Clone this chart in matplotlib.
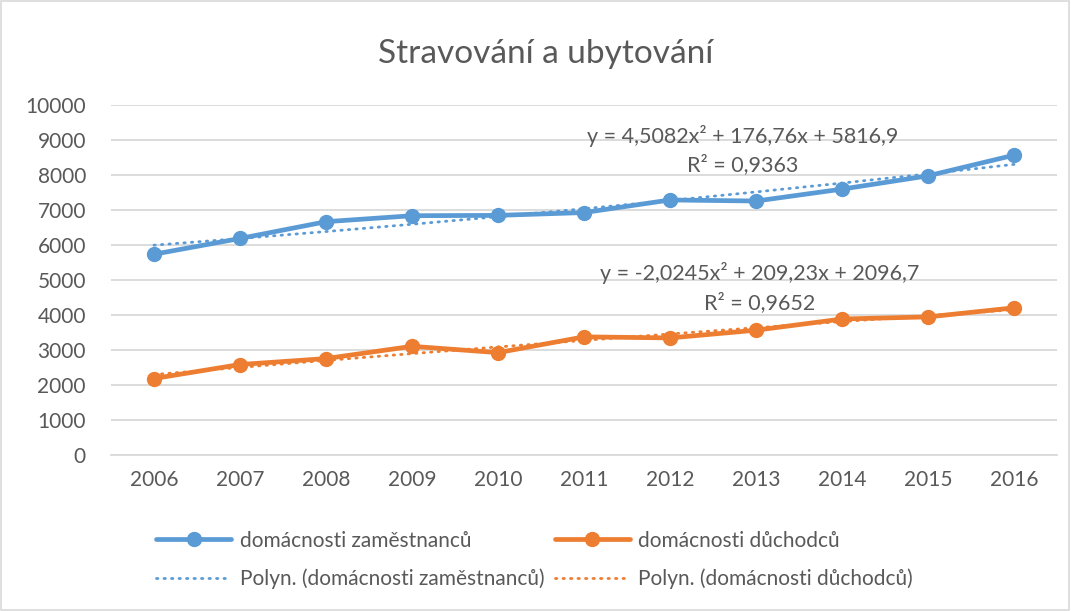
import matplotlib.pyplot as plt
import numpy as np
from matplotlib.patches import Rectangle

years = ["2006", "2007", "2008", "2009", "2010", "2011",
         "2012", "2013", "2014", "2015", "2016"]
zamestnanci = [5740, 6190, 6670, 6840, 6850, 6930, 7290, 7260, 7600, 7980, 8570]
duchodci = [2190, 2590, 2760, 3110, 2930, 3380, 3350, 3570, 3890, 3950, 4210]

# polynomial trendline coefficients (as shown in the chart)
poly_zam = [4.5082, 176.76, 5816.9]
poly_duch = [-2.0245, 209.23, 2096.7]

BLUE = "#5B9BD5"
ORANGE = "#ED7D31"
TEXT = "#595959"
GRID = "#D9D9D9"

plt.rcParams["font.family"] = ["Lato", "DejaVu Sans"]

fig = plt.figure(figsize=(10.71, 6.11), dpi=100)
ax = fig.add_axes([0.1036, 0.255, 0.8834, 0.573])

x = np.arange(len(years))
xt = x + 1  # Excel trendline x = 1..n

(l1,) = ax.plot(x, zamestnanci, color=BLUE, lw=3.4, marker="o", ms=10,
                solid_joinstyle="round", solid_capstyle="round",
                label="domácnosti zaměstnanců", zorder=3)
(l2,) = ax.plot(x, duchodci, color=ORANGE, lw=3.4, marker="o", ms=10,
                solid_joinstyle="round", solid_capstyle="round",
                label="domácnosti důchodců", zorder=3)
(t1,) = ax.plot(x, np.polyval(poly_zam, xt), color=BLUE, lw=2.0,
                linestyle=(0, (0.5, 2.2)), dash_capstyle="round",
                label="Polyn. (domácnosti zaměstnanců)", zorder=4)
(t2,) = ax.plot(x, np.polyval(poly_duch, xt), color=ORANGE, lw=2.0,
                linestyle=(0, (0.5, 2.2)), dash_capstyle="round",
                label="Polyn. (domácnosti důchodců)", zorder=4)

ax.set_xlim(-0.5, len(years) - 0.5)
ax.set_ylim(0, 10000)
ax.set_yticks(np.arange(0, 10001, 1000))
ax.set_xticks(x)
ax.set_xticklabels(years)
ax.grid(axis="y", color=GRID, lw=1.3)
ax.set_axisbelow(True)
for side in ["top", "right", "left"]:
    ax.spines[side].set_visible(False)
ax.spines["bottom"].set_color(GRID)
ax.spines["bottom"].set_linewidth(1.3)
ax.tick_params(axis="both", length=0, labelsize=15, colors=TEXT)
ax.tick_params(axis="y", pad=18)
ax.tick_params(axis="x", pad=11)

ax.text(6.84, 9110, "y = 4,5082x² + 176,76x + 5816,9", ha="center", va="center",
        fontsize=15.5, color=TEXT)
ax.text(6.84, 8310, "R² = 0,9363", ha="center", va="center", fontsize=15.5, color=TEXT)
ax.text(7.04, 5200, "y = -2,0245x² + 209,23x + 2096,7", ha="center", va="center",
        fontsize=15.5, color=TEXT)
ax.text(7.04, 4370, "R² = 0,9652", ha="center", va="center", fontsize=15.5, color=TEXT)

fig.text(0.509, 0.912, "Stravování a ubytování", ha="center", va="center",
         fontsize=24, color=TEXT)

fig.legend(handles=[l1, t1, l2, t2], loc="upper center", bbox_to_anchor=(0.499, 0.162),
           ncol=2, frameon=False, fontsize=15, labelcolor=TEXT, handlelength=3.6,
           handletextpad=0.4, columnspacing=0.5, labelspacing=0.85)

fig.patches.append(Rectangle((0.001, 0.002), 0.997, 0.996, transform=fig.transFigure,
                             fill=False, edgecolor=GRID, lw=1.2))

fig.savefig("out.png", dpi=100)
